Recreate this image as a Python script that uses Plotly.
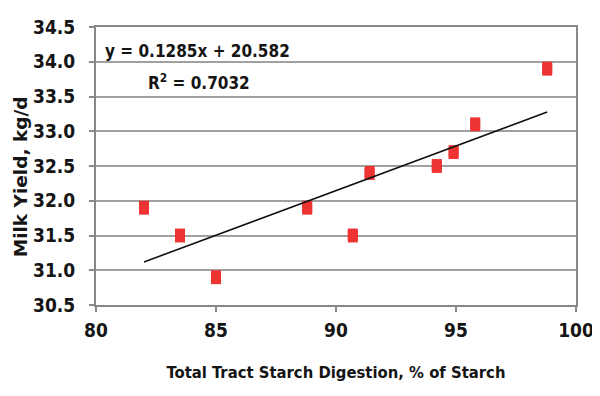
import plotly.graph_objects as go

starch_digestion = [82.0, 83.5, 85.0, 88.8, 90.7, 91.4, 94.2, 94.9, 95.8, 98.8]
milk_yield = [31.9, 31.5, 30.9, 31.9, 31.5, 32.4, 32.5, 32.7, 33.1, 33.9]
slope = 0.1285
intercept = 20.582
r_squared = 0.7032
x_ticks = [80, 85, 90, 95, 100]
y_ticks = [30.5, 31.0, 31.5, 32.0, 32.5, 33.0, 33.5, 34.0, 34.5]
x_title = "Total Tract Starch Digestion, % of Starch"
y_title = "Milk Yield, kg/d"

trend_x = [min(starch_digestion), max(starch_digestion)]
trend_y = [slope * v + intercept for v in trend_x]

FONT = "DejaVu Sans Condensed"
RED = "#EE3333"
TXT = "#151515"

fig = go.Figure()
fig.add_trace(go.Scatter(
    x=starch_digestion, y=milk_yield, mode="markers",
    marker=dict(symbol="square", size=10, color=RED, line=dict(width=0)),
    error_y=dict(type="constant", value=0.1, thickness=10, width=0, color=RED),
    showlegend=False, hoverinfo="x+y",
))
fig.add_trace(go.Scatter(
    x=trend_x, y=trend_y, mode="lines",
    line=dict(color="#111111", width=1.6),
    showlegend=False,
))

fig.add_annotation(
    x=0.014, y=0.915, xref="paper", yref="paper", xanchor="left", yanchor="middle",
    text=f"<b>y = {slope}x + {intercept}</b>", showarrow=False,
    font=dict(family=FONT, size=17, color=TXT),
)
fig.add_annotation(
    x=0.104, y=0.803, xref="paper", yref="paper", xanchor="left", yanchor="middle",
    text=f"<b>R<sup>2</sup> = {r_squared}</b>", showarrow=False,
    font=dict(family=FONT, size=17, color=TXT),
)
# y-axis title (placed slightly below the plot centre, as in the reference)
fig.add_annotation(
    x=-0.158, y=0.46, xref="paper", yref="paper", xanchor="center", yanchor="middle",
    text=f"<b>{y_title}</b>", textangle=-90, showarrow=False,
    font=dict(family="DejaVu Sans", size=18.5, color=TXT),
)

# image frame line on the right edge
fig.add_shape(type="line", xref="paper", yref="paper",
              x0=1.041, x1=1.041, y0=-0.4, y1=1.1,
              line=dict(color="#CCCCCC", width=2))

fig.update_layout(
    width=600, height=396,
    margin=dict(l=88, r=32, t=19, b=99),
    paper_bgcolor="white", plot_bgcolor="white",
    font=dict(family=FONT, color=TXT),
)
fig.update_xaxes(
    range=[80, 100], tickvals=x_ticks, ticktext=[f"<b>{v}</b>" for v in x_ticks],
    showgrid=False, zeroline=False, automargin=False,
    showline=True, linecolor="#888888", linewidth=2, mirror=True,
    ticks="outside", ticklen=5, tickwidth=2, tickcolor="#888888",
    tickfont=dict(family=FONT, size=19, color=TXT),
    ticklabelstandoff=2,
    title=dict(text=f"<b>{x_title}</b>",
               font=dict(family=FONT, size=16.5, color=TXT), standoff=27),
)
fig.update_yaxes(
    range=[30.5, 34.5], tickvals=y_ticks, ticktext=[f"<b>{v:.1f}</b>" for v in y_ticks],
    showgrid=True, gridcolor="#A0A0A0", gridwidth=2, zeroline=False, automargin=False,
    showline=True, linecolor="#888888", linewidth=2, mirror=True,
    ticks="outside", ticklen=5, tickwidth=2, tickcolor="#888888",
    tickfont=dict(family=FONT, size=19, color=TXT),
    ticklabelstandoff=10,
)

fig.write_html("out.html")
